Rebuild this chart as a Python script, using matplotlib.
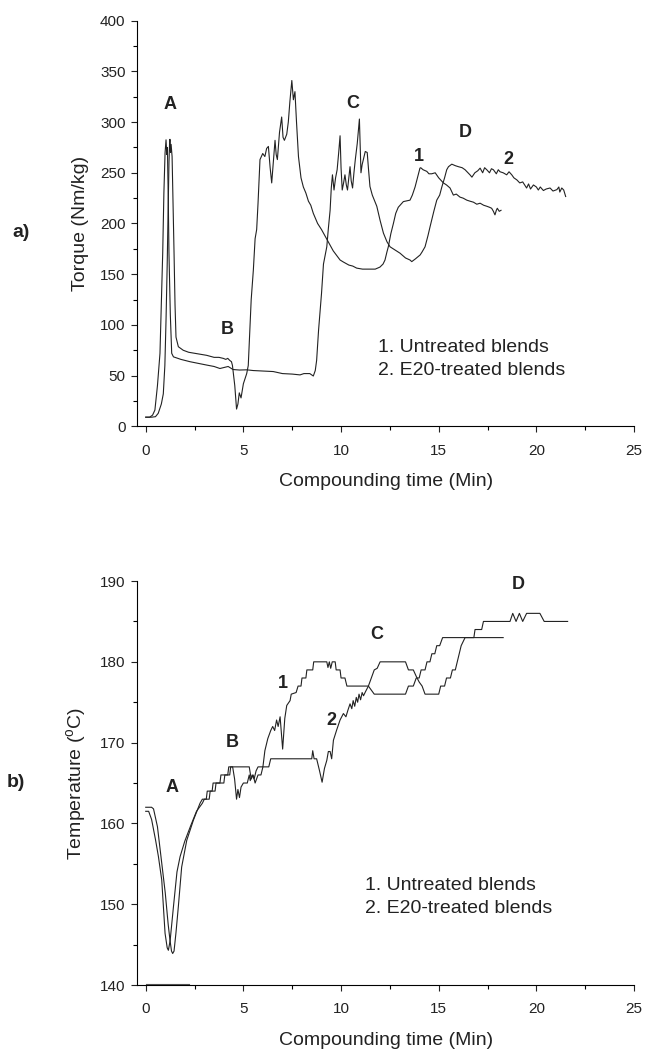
import numpy as np
import matplotlib
matplotlib.use('Agg')
import matplotlib.pyplot as plt
from matplotlib.ticker import MultipleLocator

plt.rcParams['font.family'] = ['Liberation Sans', 'DejaVu Sans']
plt.rcParams['mathtext.fontset'] = 'custom'
plt.rcParams['mathtext.rm'] = 'Liberation Sans'

# Torque, curva 1 (untreated blends)
t_torque_1 = [0, 0.3, 0.5, 0.64, 0.8, 0.9, 0.98, 1.04, 1.1, 1.14, 1.19, 1.22, 1.24, 1.27, 1.3,
              1.35, 1.4, 1.45, 1.5, 1.55, 1.67, 1.92, 2.2, 2.5, 2.8, 3.12, 3.5, 3.75, 3.97, 4.1,
              4.2, 4.3, 4.39, 4.44, 4.56, 4.65, 4.72, 4.79, 4.88, 5.0, 5.17, 5.25, 5.34, 5.4,
              5.51, 5.6, 5.68, 5.75, 5.85, 5.99, 6.1, 6.19, 6.28, 6.37, 6.45, 6.55, 6.62, 6.68,
              6.74, 6.85, 6.96, 7.03, 7.1, 7.22, 7.3, 7.38, 7.48, 7.56, 7.64, 7.72, 7.82, 7.95,
              8.07, 8.2, 8.33, 8.45, 8.58, 8.8, 9.0, 9.27, 9.6, 9.95, 10.12, 10.4, 10.6, 10.8,
              11.1, 11.48, 11.75, 11.99, 12.15, 12.25, 12.35, 12.42, 12.55, 12.68, 12.8, 12.93,
              13.19, 13.53, 13.65, 13.79, 13.9, 14.04, 14.08, 14.2, 14.39, 14.5, 14.64, 14.82,
              15.0, 15.24, 15.4, 15.58, 15.75, 15.9, 16.09, 16.25, 16.44, 16.6, 16.78, 16.95,
              17.12, 17.3, 17.46, 17.6, 17.71, 17.8, 17.88, 17.95, 18.0, 18.1, 18.19]
torque_1 = [9, 9, 9.5, 12.8, 22, 32, 60, 105, 160, 204, 260, 278, 283, 270, 278,
            266, 220, 171, 120, 88, 78.5, 75, 73, 72, 71, 70, 68, 68, 67, 66,
            67, 65, 63.7, 60, 40, 17, 22, 33, 28, 42, 52, 60, 98, 125,
            154, 185, 194, 220, 263, 269, 266, 274, 276, 255, 240, 265, 282, 268,
            263, 290, 305, 285, 282, 288, 300, 320, 341, 322, 330, 300, 266, 245,
            236, 230, 222, 218, 210, 200, 194, 184.6, 173, 164, 162, 159, 158, 156,
            155, 155, 155, 157, 160, 164, 172, 177, 190, 200, 210, 216,
            221.6, 223, 228, 236, 244, 254.6, 255, 253, 251.4, 249, 249, 250,
            245, 240, 238, 235, 228, 229, 226, 225, 223, 222, 221, 219,
            220, 218, 217, 216, 215, 212, 208.5, 213, 215, 212, 213]

# Torque, curva 2 (E20-treated blends)
t_torque_2 = [0, 0.2, 0.35, 0.47, 0.6, 0.73, 0.8, 0.87, 0.93, 0.99, 1.04, 1.08, 1.11, 1.15,
              1.19, 1.26, 1.33, 1.42, 1.8, 2.27, 2.7, 3.12, 3.5, 3.8, 4.0, 4.22, 4.47, 4.8,
              5.17, 5.5, 6.0, 6.53, 7.0, 7.5, 7.9, 8.1, 8.4, 8.58, 8.68, 8.75, 8.85, 9.0, 9.1,
              9.27, 9.35, 9.44, 9.5, 9.56, 9.64, 9.72, 9.8, 9.88, 9.95, 10.0, 10.06, 10.13,
              10.2, 10.27, 10.33, 10.4, 10.46, 10.52, 10.59, 10.66, 10.73, 10.83, 10.94, 10.98,
              11.02, 11.08, 11.14, 11.24, 11.34, 11.4, 11.48, 11.6, 11.83, 12.0, 12.17, 12.35,
              12.51, 12.75, 13.02, 13.3, 13.53, 13.62, 13.8, 14.05, 14.15, 14.3, 14.45, 14.56,
              14.75, 14.9, 15.05, 15.16, 15.3, 15.41, 15.5, 15.67, 15.85, 16.01, 16.2, 16.35,
              16.5, 16.6, 16.7, 16.85, 17.0, 17.12, 17.25, 17.35, 17.46, 17.6, 17.7, 17.8,
              17.95, 18.05, 18.14, 18.3, 18.48, 18.6, 18.74, 18.85, 19.0, 19.15, 19.3, 19.5,
              19.6, 19.7, 19.85, 20.0, 20.1, 20.2, 20.36, 20.5, 20.7, 20.85, 21.05, 21.15,
              21.2, 21.3, 21.4, 21.5]
torque_2 = [9, 9, 11, 16, 40, 72, 120, 171, 230, 269.5, 282.5, 268, 275, 230,
            171, 110, 72, 68.5, 66, 63.7, 62, 60.4, 59, 57, 58, 59, 56, 55.5,
            55.7, 55, 54.5, 54, 52, 51.5, 50.7, 52, 52, 49.6, 55, 65, 95, 131, 160,
            177, 195, 213, 235, 248, 233, 245, 253, 270, 286.5, 255, 233, 240,
            248, 238, 233, 245, 256, 242, 235, 250, 263, 279, 303, 275,
            250, 258, 263, 271, 270, 255, 236.5, 228, 217, 203, 190.5, 182,
            177, 174, 170.7, 166, 164, 162.4, 165, 169, 172, 177, 188, 197,
            212, 223, 228, 236, 245, 253, 256, 258.5, 257, 256, 255, 253,
            250, 248, 245.7, 250, 252, 254.6, 250, 255, 253, 250, 254, 253,
            249, 253, 251, 250, 248, 251, 248, 245, 243, 240, 241, 235,
            239, 234, 238, 236, 233, 236, 232.5, 234, 235, 232, 233.4, 236,
            231, 235, 233, 226.6]

# Temperatura, curva 1
t_temp_1 = [0.0, 0.3, 0.4, 0.6, 0.8, 1.0, 1.15, 1.24, 1.32, 1.38, 1.45, 1.55, 1.67, 1.84,
            2.1, 2.44, 2.78, 2.9, 3.1, 3.15, 3.4, 3.45, 3.8, 3.85, 4.2, 4.25, 4.45, 4.55,
            4.65, 4.72, 4.8, 4.88, 5.0, 5.2, 5.3, 5.35, 5.45, 5.55, 5.65, 5.75, 6.0, 6.1,
            6.25, 6.4, 6.5, 6.6, 6.7, 6.78, 6.88, 7.01, 7.12, 7.22, 7.39, 7.45, 7.7, 7.8,
            7.95, 8.0, 8.2, 8.25, 8.55, 8.6, 9.27, 9.33, 9.4, 9.47, 9.55, 9.7, 9.75, 9.95,
            10.0, 10.2, 10.3, 11.4, 11.7, 13.3, 13.45, 13.7, 13.85, 14.0, 14.1, 14.3, 14.4,
            14.55, 14.65, 14.8, 14.9, 15.05, 15.2, 18.3]
temp_1 = [162, 162, 161.8, 159.6, 155.5, 151.4, 147.5, 145.6, 144.2, 143.9, 144.2, 146.5,
          149.7, 154.6, 157.9, 160.4, 162.5, 163, 163, 164, 164, 165, 165, 166, 166, 167,
          167, 165.5, 163, 164.2, 163.2, 164.5, 165, 165, 166, 165.3, 166, 165.5, 166.5,
          167, 167, 169, 170.5, 171.5, 172, 171.5, 172.8, 172, 173.2, 169.2, 173, 174.6,
          175.2, 176, 176.2, 177, 177, 178, 178, 179, 179, 180, 180, 179.3, 180, 179.2,
          180, 180, 179, 179, 178, 178, 177, 177, 176, 176, 177, 177, 178, 178, 179, 179,
          180, 180, 181, 181, 182, 182, 183, 183]

# Temperatura, curva 2
t_temp_2 = [0.0, 0.15, 0.3, 0.5, 0.65, 0.82, 0.99, 1.1, 1.16, 1.25, 1.42, 1.6, 1.76, 2.0,
            2.3, 2.6, 2.9, 3.0, 3.25, 3.3, 3.55, 3.6, 4.0, 4.05, 4.3, 4.35, 5.3, 5.4, 5.5,
            5.6, 5.75, 5.9, 6.0, 6.3, 6.4, 8.5, 8.55, 8.62, 8.75, 8.9, 9.03, 9.15, 9.27,
            9.35, 9.44, 9.52, 9.61, 9.78, 9.95, 10.12, 10.25, 10.35, 10.46, 10.55, 10.62,
            10.7, 10.78, 10.85, 10.92, 11.0, 11.08, 11.15, 11.25, 11.4, 11.55, 11.7, 11.85,
            12.0, 13.3, 13.45, 13.7, 13.85, 14.0, 14.15, 14.3, 15.0, 15.1, 15.3, 15.4, 15.6,
            15.7, 15.85, 15.95, 16.05, 16.15, 16.35, 16.8, 16.86, 17.2, 17.29, 18.65, 18.79,
            18.96, 19.13, 19.3, 19.5, 20.18, 20.4, 21.6]
temp_2 = [161.5, 161.5, 160.5, 158, 155.9, 153, 146.4, 144.6, 144.3, 145.5, 149.7, 154,
          155.9, 157.8, 159.7, 161.5, 162.5, 163, 163, 164, 164, 165, 165, 166, 166, 167,
          167, 165.5, 166, 165, 166, 166, 167, 167, 168, 168, 169, 168, 168, 166.5, 165.1,
          166.8, 167.8, 168.9, 168.9, 168, 170.3, 171.6, 172.8, 173.6, 173.2, 174, 174.8,
          174.2, 175.2, 174.5, 175.6, 175, 176, 175.3, 176.2, 175.8, 176.3, 177, 178, 179,
          179.2, 180, 180, 179, 179, 178.2, 177.5, 177, 176, 176, 177, 177, 178, 178, 179,
          179, 180, 181, 182, 183, 183, 184, 184, 185, 185, 186, 185, 186, 185, 186, 186,
          185, 185]

# tramo horizontal sobre el eje en la gráfica b)
t_base = [0.0, 2.2]
temp_base = [140.15, 140.15]

etiquetas_a = ['A', 'B', 'C', 'D', '1', '2']
pos_a = [(1.22, 317), (4.18, 95), (10.6, 318), (16.35, 290), (14.0, 266), (18.57, 263)]
etiquetas_b = ['A', 'B', 'C', 'D', '1', '2']
pos_b = [(1.37, 164.5), (4.45, 170.0), (11.83, 183.4), (19.05, 189.6), (7.04, 177.3), (9.52, 172.8)]

leyenda = ['1. Untreated blends', '2. E20-treated blends']


def formato_eje(ax):
    ax.spines['top'].set_visible(False)
    ax.spines['right'].set_visible(False)
    for s in ['left', 'bottom']:
        ax.spines[s].set_linewidth(0.8)
    ax.xaxis.set_major_locator(MultipleLocator(5))
    ax.xaxis.set_minor_locator(MultipleLocator(2.5))
    ax.tick_params(which='major', direction='out', length=4.5, width=0.8,
                   labelsize=11, colors='#222222')
    ax.tick_params(which='minor', direction='out', length=3, width=0.8)
    ax.tick_params(axis='x', which='major', pad=8)
    ax.tick_params(axis='y', which='major', pad=4)
    ax.set_xlim(-0.43, 25)
    ax.set_xlabel('Compounding time (Min)', fontsize=14, labelpad=11, color='#222222')


fig = plt.figure(figsize=(6.45, 10.49), dpi=100)

# a) Torque
ax1 = fig.add_axes([0.2129, 0.5936, 0.7701, 0.3867])
ax1.plot(t_torque_1, torque_1, color='#222222', lw=0.8)
ax1.plot(t_torque_2, torque_2, color='#222222', lw=0.8)
formato_eje(ax1)
ax1.set_ylim(0, 400)
ax1.yaxis.set_major_locator(MultipleLocator(50))
ax1.yaxis.set_minor_locator(MultipleLocator(25))
ax1.set_ylabel('Torque (Nm/kg)', fontsize=14, labelpad=8, color='#222222')
for txt, (x, y) in zip(etiquetas_a, pos_a):
    ax1.text(x, y, txt, fontsize=13, fontweight='bold', ha='center', va='center', color='#222222')
ax1.text(11.9, 78, leyenda[0], fontsize=14, va='center', color='#222222')
ax1.text(11.9, 55, leyenda[1], fontsize=14, va='center', color='#222222')
fig.text(0.032, 0.778, 'a)', fontsize=14, fontweight='bold', ha='center', va='center', color='#222222')

# b) Temperatura
ax2 = fig.add_axes([0.2129, 0.0610, 0.7701, 0.3851])
ax2.plot(t_temp_1, temp_1, color='#222222', lw=0.8)
ax2.plot(t_temp_2, temp_2, color='#222222', lw=0.8)
ax2.plot(t_base, temp_base, color='#555555', lw=0.8)
formato_eje(ax2)
ax2.set_ylim(140, 190)
ax2.yaxis.set_major_locator(MultipleLocator(10))
ax2.yaxis.set_minor_locator(MultipleLocator(5))
ax2.set_ylabel(r'Temperature ($^\mathrm{o}$C)', fontsize=14, labelpad=8, color='#222222')
for txt, (x, y) in zip(etiquetas_b, pos_b):
    ax2.text(x, y, txt, fontsize=13, fontweight='bold', ha='center', va='center', color='#222222')
ax2.text(11.24, 152.3, leyenda[0], fontsize=14, va='center', color='#222222')
ax2.text(11.24, 149.5, leyenda[1], fontsize=14, va='center', color='#222222')
fig.text(0.025, 0.2536, 'b)', fontsize=14, fontweight='bold', ha='center', va='center', color='#222222')

fig.savefig('out.png', dpi=100)
